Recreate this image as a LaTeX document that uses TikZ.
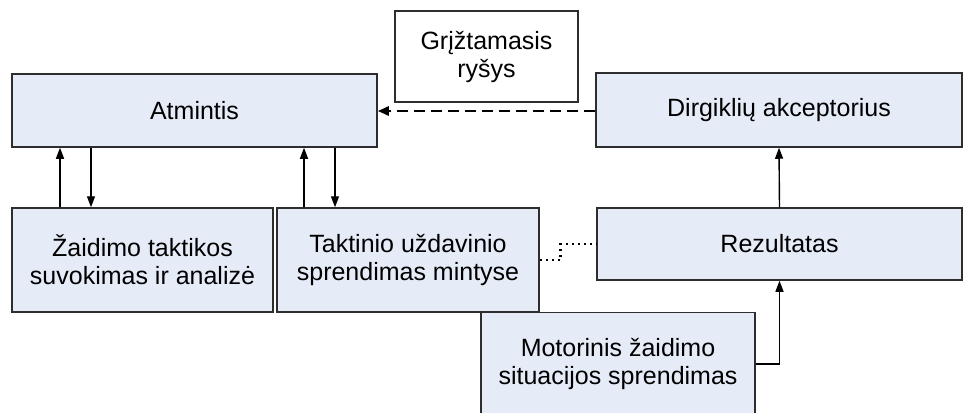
\documentclass[tikz,border=0pt]{standalone}
\usepackage{fontspec}
\setmainfont{Liberation Sans}
\usetikzlibrary{arrows.meta,calc}
\definecolor{boxfill}{RGB}{230,236,247}
\definecolor{boxline}{RGB}{45,45,45}
\begin{document}
\begin{tikzpicture}[x=1pt,y=-1pt,
  box/.style={draw=boxline,line width=1.5pt,fill=boxfill,inner sep=0pt,
    align=center,font=\fontsize{25}{28}\selectfont},
  plainbox/.style={box,fill=white},
  arr/.style={line width=1.4pt,-{Triangle[length=11pt,width=8pt]}},
  feedback/.style={line width=2.6pt,dash pattern=on 11pt off 6pt,
    -{Triangle[length=11pt,width=9pt]}},
  link/.style={line width=2.6pt,dash pattern=on 2.4pt off 3.6pt}]
\useasboundingbox (0,0) rectangle (963,412);
% memory and acceptor row
\node[box,minimum width=365pt,minimum height=73pt] (atm) at (194.5,110.5) {Atmintis};
\node[box,minimum width=366pt,minimum height=74pt] (dir) at (779,110) {Dirgiklių akceptorius};
\node[plainbox,minimum width=183pt,minimum height=91pt] (fb) at (486.5,56.5) {Grįžtamasis\\ryšys};
% processing row
\node[box,minimum width=261pt,minimum height=104pt] (zai) at (142.5,260) {Žaidimo taktikos\\suvokimas ir analizė};
\node[box,minimum width=262pt,minimum height=104pt] (tak) at (408,260) {Taktinio uždavinio\\sprendimas mintyse};
\node[box,minimum width=365pt,minimum height=72pt] (rez) at (779.5,244) {Rezultatas};
\node[box,minimum width=274pt,minimum height=103pt] (mot) at (618,364) {Motorinis žaidimo\\situacijos sprendimas};
% memory exchange
\draw[arr] ([xshift=-82.5]zai.north) coordinate (a1) -- (a1 |- atm.south);
\draw[arr] ([xshift=-51.5]zai.north |- atm.south) coordinate (a2) -- (a2 |- zai.north);
\draw[arr] ([xshift=-104]tak.north) coordinate (a3) -- (a3 |- atm.south);
\draw[arr] ([xshift=-73]tak.north |- atm.south) coordinate (a4) -- (a4 |- tak.north);
% result chain
\draw[arr] (rez.north) -- (dir.south);
\draw[arr] (mot.east) -- (mot.east -| rez.south) -- (rez.south);
% feedback
\draw[feedback] (dir.west |- 0,111) -- (atm.east |- 0,111);
% link between thought and result
\draw[link] (tak.east) -- ++(21,0) coordinate (k) -- (k |- rez.west) -- (rez.west);
\end{tikzpicture}
\end{document}
